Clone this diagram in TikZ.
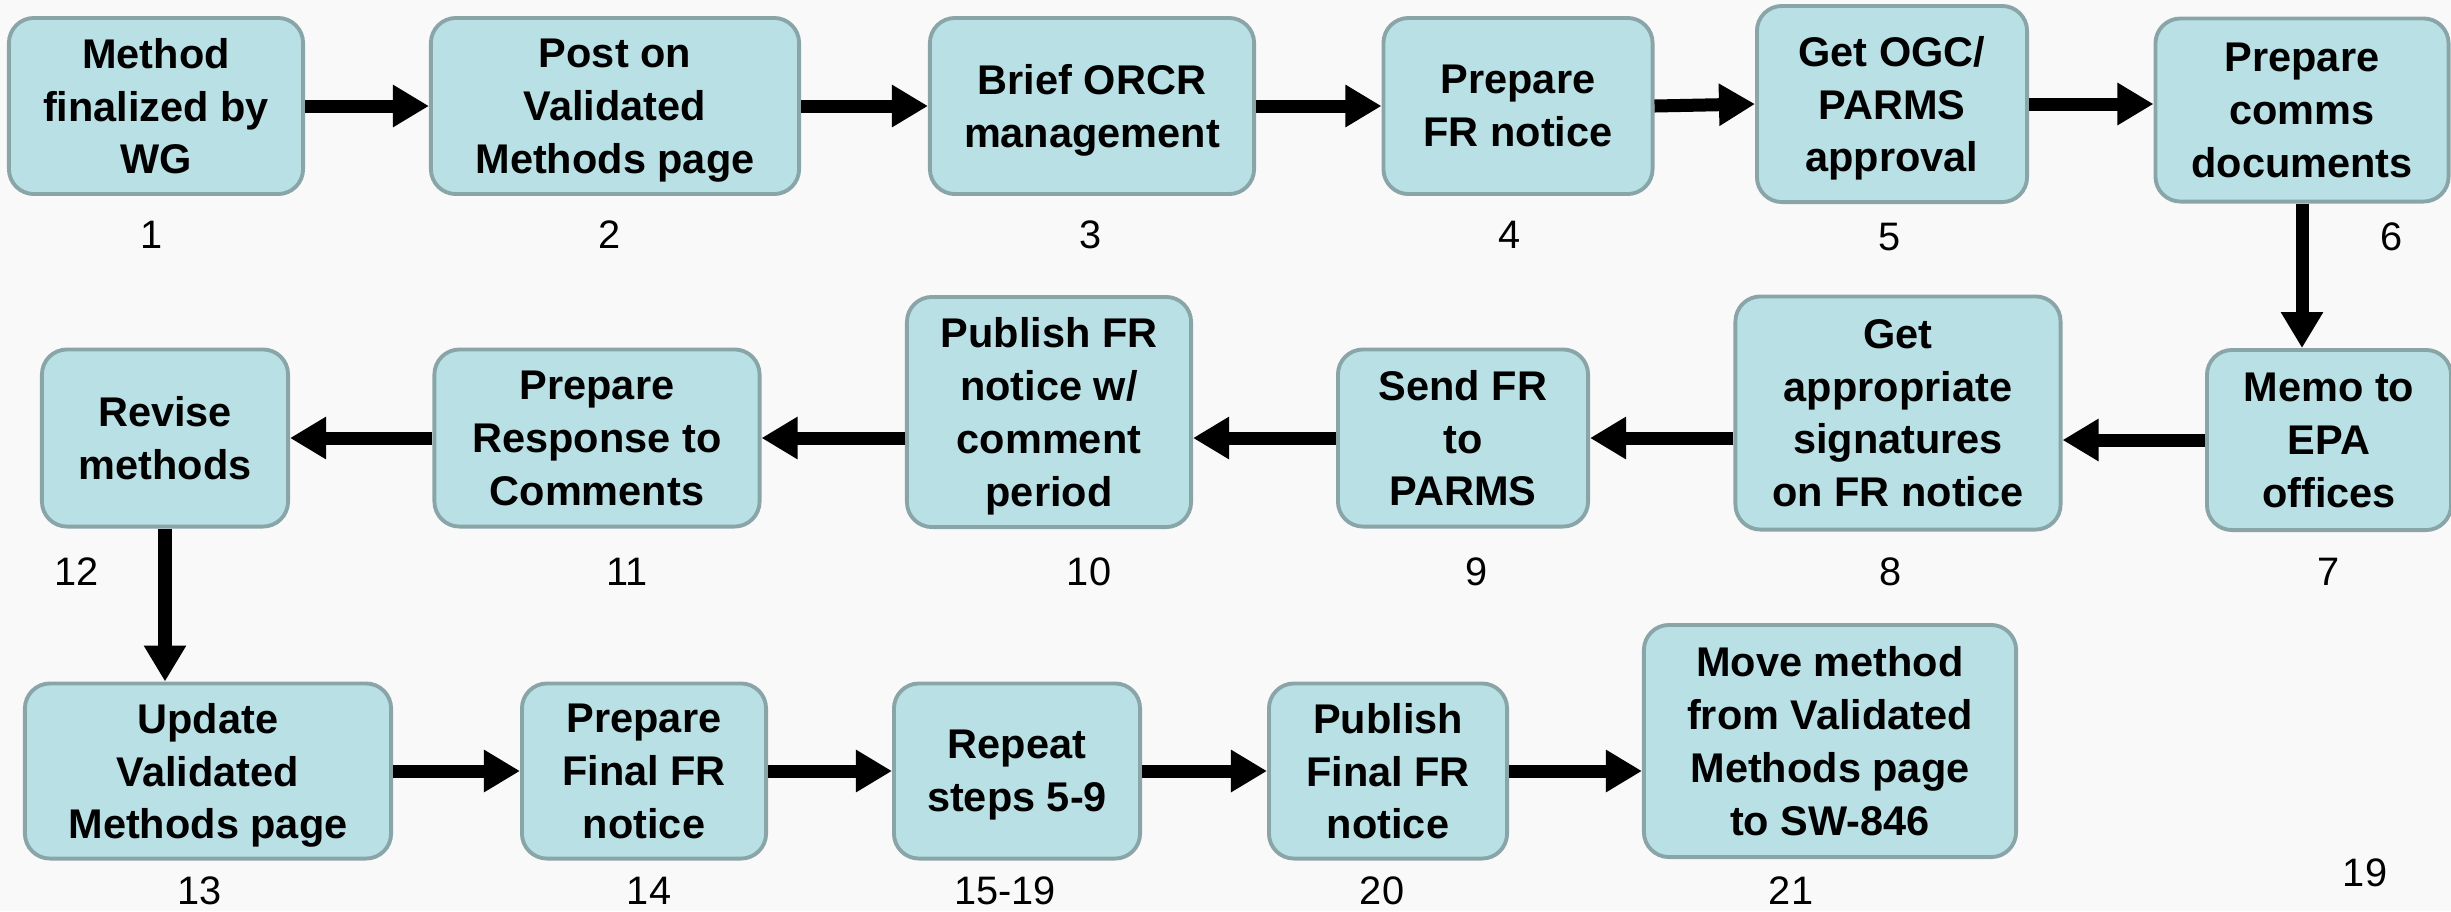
\documentclass[tikz,border=0pt]{standalone}
\usepackage{fontspec}
\setmainfont{Liberation Sans}
\usetikzlibrary{arrows.meta}
\definecolor{boxfill}{RGB}{185,224,228}
\definecolor{boxline}{RGB}{137,165,168}
\definecolor{pagebg}{RGB}{249,249,249}
\tikzset{
  stepbox/.style={draw=boxline, fill=boxfill, line width=1.1pt, rounded corners=0.25cm,
    align=center, inner sep=0pt, text depth=0pt, font=\fontsize{11.8}{15}\selectfont\bfseries},
  steplabel/.style={inner sep=0pt, font=\fontsize{11.3}{13}\selectfont},
  flow/.style={line width=0.13cm, -{Triangle[length=0.36cm,width=0.40cm]}},
}
\begin{document}
\begin{tikzpicture}[x=0.01cm, y=-0.01cm]
  \fill[pagebg] (0,0) rectangle (2451,911);
  \useasboundingbox (0,0) rectangle (2451,911);

  % first row
  \node[stepbox, minimum width=2.94cm, minimum height=1.76cm] (b1) at (156,106) {Method\\finalized by\\WG};
  \node[stepbox, minimum width=3.68cm, minimum height=1.76cm] (b2) at (615,106) {Post on\\Validated\\Methods page};
  \node[stepbox, minimum width=3.24cm, minimum height=1.76cm] (b3) at (1092,106) {Brief ORCR\\management};
  \node[stepbox, minimum width=2.69cm, minimum height=1.76cm] (b4) at (1518,106) {Prepare\\FR notice};
  \node[stepbox, minimum width=2.70cm, minimum height=1.96cm] (b5) at (1892,104) {Get OGC/\\PARMS\\approval};
  \node[stepbox, minimum width=2.93cm, minimum height=1.83cm] (b6) at (2302,110) {Prepare\\comms\\documents};

  % second row
  \node[stepbox, minimum width=2.44cm, minimum height=1.80cm] (b7) at (2329,440) {Memo to\\EPA\\offices};
  \node[stepbox, minimum width=3.25cm, minimum height=2.33cm] (b8) at (1898,413) {Get\\appropriate\\signatures\\on FR notice};
  \node[stepbox, minimum width=2.50cm, minimum height=1.77cm] (b9) at (1463,438) {Send FR\\to\\PARMS};
  \node[stepbox, minimum width=2.84cm, minimum height=2.30cm] (b10) at (1049,412) {Publish FR\\notice w/\\comment\\period};
  \node[stepbox, minimum width=3.25cm, minimum height=1.77cm] (b11) at (597,438) {Prepare\\Response to\\Comments};
  \node[stepbox, minimum width=2.46cm, minimum height=1.77cm] (b12) at (165,438) {Revise\\methods};

  % third row
  \node[stepbox, minimum width=3.66cm, minimum height=1.75cm] (b13) at (208,771) {Update\\Validated\\Methods page};
  \node[stepbox, minimum width=2.44cm, minimum height=1.75cm] (b14) at (644,771) {Prepare\\Final FR\\notice};
  \node[stepbox, minimum width=2.46cm, minimum height=1.75cm] (b15) at (1017,771) {Repeat\\steps 5-9};
  \node[stepbox, minimum width=2.38cm, minimum height=1.75cm] (b20) at (1388,771) {Publish\\Final FR\\notice};
  \node[stepbox, minimum width=3.72cm, minimum height=2.32cm] (b21) at (1830,741) {Move method\\from Validated\\Methods page\\to SW-846};

  % step numbers
  \foreach \name/\x/\y/\txt in {l1/152/235/1, l2/610/235/2, l3/1091/235/3, l4/1510/235/4,
      l5/1890/237/5, l6/2392/237/6, l7/2329/572/7, l8/1891/572/8, l9/1477/572/9,
      l10/1089/572/10, l11/627/572/11, l12/77/572/12, l13/200/891/13, l14/649/891/14,
      l15/1005/891/15-19, l20/1382/891/20, l21/1791/891/21, l19/2365/873/19}
    \node[steplabel] (\name) at (\x,\y) {\txt};

  % connectors
  \draw[flow] (b1) -- (b2);
  \draw[flow] (b2) -- (b3);
  \draw[flow] (b3) -- (b4);
  \draw[flow] (b4.east) -- (b5.west);
  \draw[flow] (b5.east) -- (b5.east -| b6.west);
  \draw[flow] (b6.south) -- (b6.south |- b7.north);
  \draw[flow] (b7.west) -- (b7.west -| b8.east);
  \draw[flow] (b8.west |- b9.east) -- (b9.east);
  \draw[flow] (b9.west) -- (b9.west -| b10.east);
  \draw[flow] (b10.west |- b11.east) -- (b11.east);
  \draw[flow] (b11) -- (b12);
  \draw[flow] (b12.south) -- (b12.south |- b13.north);
  \draw[flow] (b13) -- (b14);
  \draw[flow] (b14) -- (b15);
  \draw[flow] (b15) -- (b20);
  \draw[flow] (b20.east) -- (b20.east -| b21.west);
\end{tikzpicture}
\end{document}
